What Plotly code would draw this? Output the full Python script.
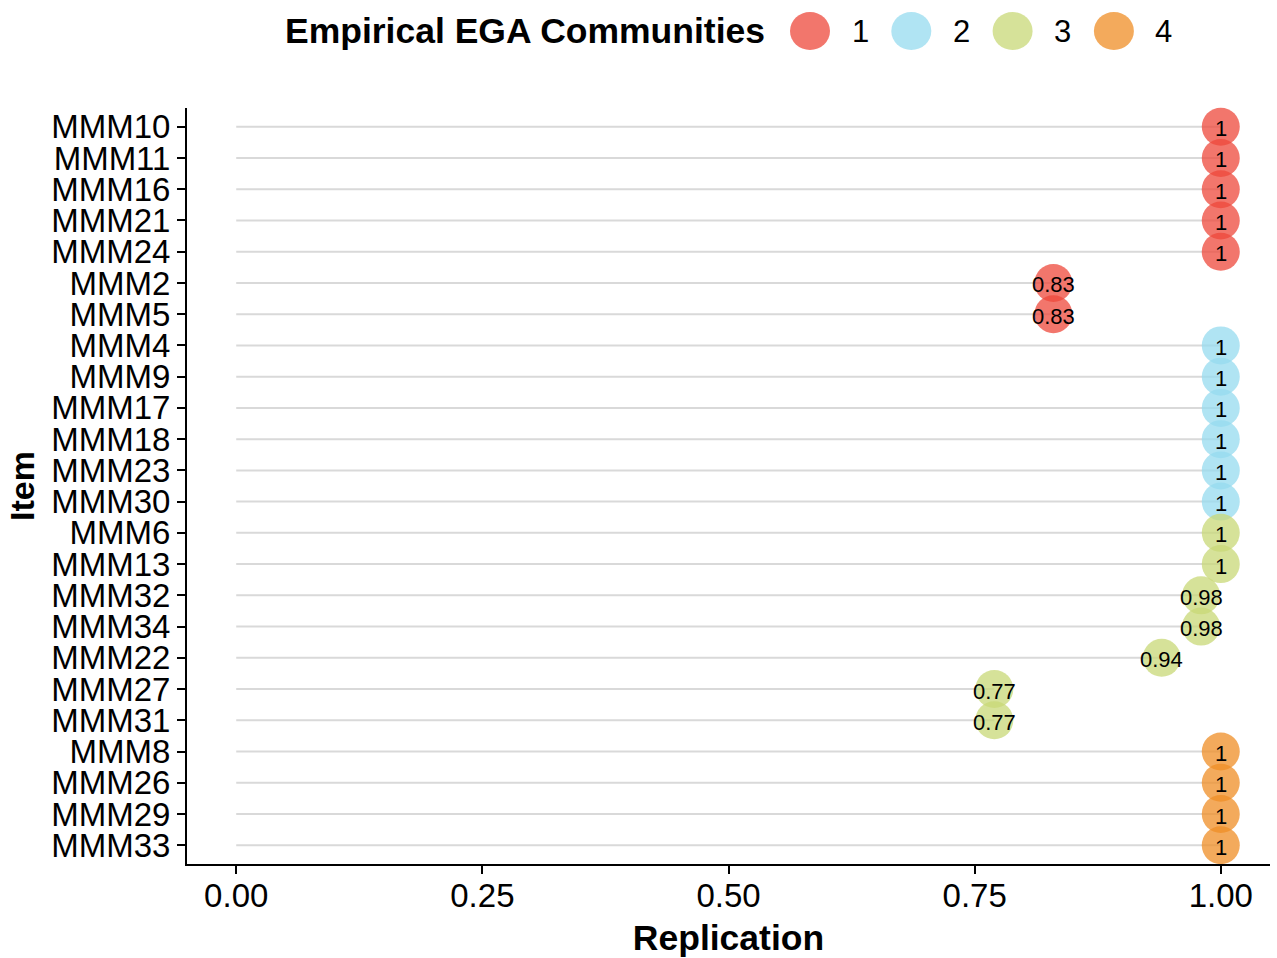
import plotly.graph_objects as go

# Items in display order (top to bottom)
items = ["MMM10", "MMM11", "MMM16", "MMM21", "MMM24", "MMM2", "MMM5",
         "MMM4", "MMM9", "MMM17", "MMM18", "MMM23", "MMM30",
         "MMM6", "MMM13", "MMM32", "MMM34", "MMM22", "MMM27", "MMM31",
         "MMM8", "MMM26", "MMM29", "MMM33"]
replication = [1, 1, 1, 1, 1, 0.83, 0.83,
               1, 1, 1, 1, 1, 1,
               1, 1, 0.98, 0.98, 0.94, 0.77, 0.77,
               1, 1, 1, 1]
community = [1, 1, 1, 1, 1, 1, 1,
             2, 2, 2, 2, 2, 2,
             3, 3, 3, 3, 3, 3, 3,
             4, 4, 4, 4]
communities = [1, 2, 3, 4]
comm_colors = {1: "rgba(238,72,59,0.75)", 2: "rgba(150,219,239,0.75)",
               3: "rgba(200,216,119,0.75)", 4: "rgba(239,142,38,0.75)"}
x_ticks = [0, 0.25, 0.5, 0.75, 1.0]
x_tick_text = ["0.00", "0.25", "0.50", "0.75", "1.00"]

FONT = "Liberation Sans, Arial, sans-serif"
W, H = 1277, 958
ML, MR, MT, MB = 187, 7, 108, 94
PW, PH = W - ML - MR, H - MT - MB

fig = go.Figure()

# Segments from 0 to each replication value
seg_x, seg_y = [], []
for it, v in zip(items, replication):
    seg_x += [0, v, None]
    seg_y += [it, it, None]
fig.add_trace(go.Scatter(x=seg_x, y=seg_y, mode="lines",
                         line=dict(color="#D9D9D9", width=2),
                         hoverinfo="skip", showlegend=False))

# Points per community
for c in communities:
    xs = [v for v, k in zip(replication, community) if k == c]
    ys = [it for it, k in zip(items, community) if k == c]
    fig.add_trace(go.Scatter(
        x=xs, y=ys, mode="markers",
        marker=dict(size=38, color=comm_colors[c], line=dict(width=0)),
        name=str(c), showlegend=False, cliponaxis=False))

# Value labels on each point
for it, v in zip(items, replication):
    fig.add_annotation(x=v, y=it, xref="x", yref="y", text=f"{v:g}",
                       showarrow=False, xanchor="center", yanchor="middle",
                       yshift=-2, font=dict(family=FONT, size=22, color="black"))

# Legend drawn in the top margin
def px_to_paper_x(px):
    return (px - ML) / PW

def py_to_paper_y(py):
    return (H - MB - py) / PH

legend_y = py_to_paper_y(31)
fig.add_annotation(x=px_to_paper_x(767), y=legend_y, xref="paper", yref="paper",
                   text="<b>Empirical EGA Communities</b>", showarrow=False,
                   xanchor="right", yanchor="middle",
                   font=dict(family=FONT, size=35.5, color="black"))
for i, c in enumerate(communities):
    cx = 810 + i * 101.3
    fig.add_shape(type="circle", xref="paper", yref="paper",
                  xsizemode="pixel", ysizemode="pixel",
                  xanchor=px_to_paper_x(cx), yanchor=legend_y,
                  x0=-20, x1=20, y0=-19, y1=19,
                  fillcolor=comm_colors[c], line=dict(width=0), layer="above")
    fig.add_annotation(x=px_to_paper_x(cx + 50), y=legend_y, xref="paper", yref="paper",
                       text=str(c), showarrow=False, xanchor="center", yanchor="middle",
                       font=dict(family=FONT, size=31, color="black"))

fig.update_layout(
    width=W, height=H,
    margin=dict(l=ML, r=MR, t=MT, b=MB),
    paper_bgcolor="white", plot_bgcolor="white",
    showlegend=False,
    font=dict(family=FONT, color="black"),
    xaxis=dict(range=[-0.05, 1.05], tickmode="array", tickvals=x_ticks, ticktext=x_tick_text,
               showgrid=False, zeroline=False, showline=True, linecolor="black",
               linewidth=2, ticks="outside", ticklen=8, tickwidth=2, tickcolor="black",
               ticklabelstandoff=-7,
               tickfont=dict(family=FONT, size=33, color="black"),
               title=dict(text="<b>Replication</b>", standoff=13,
                          font=dict(family=FONT, size=35.5, color="black"))),
    yaxis=dict(type="category", categoryorder="array", categoryarray=items[::-1],
               tickmode="array", tickvals=items, ticktext=items,
               range=[-0.6, len(items) - 0.4],
               showgrid=False, zeroline=False, showline=True, linecolor="black",
               linewidth=2, ticks="outside", ticklen=8, tickwidth=2, tickcolor="black",
               ticklabelstandoff=0,
               tickfont=dict(family=FONT, size=33, color="black"),
               title=dict(text="<b>Item</b>", standoff=6,
                          font=dict(family=FONT, size=34, color="black"))),
)

fig.write_html("out.html")
